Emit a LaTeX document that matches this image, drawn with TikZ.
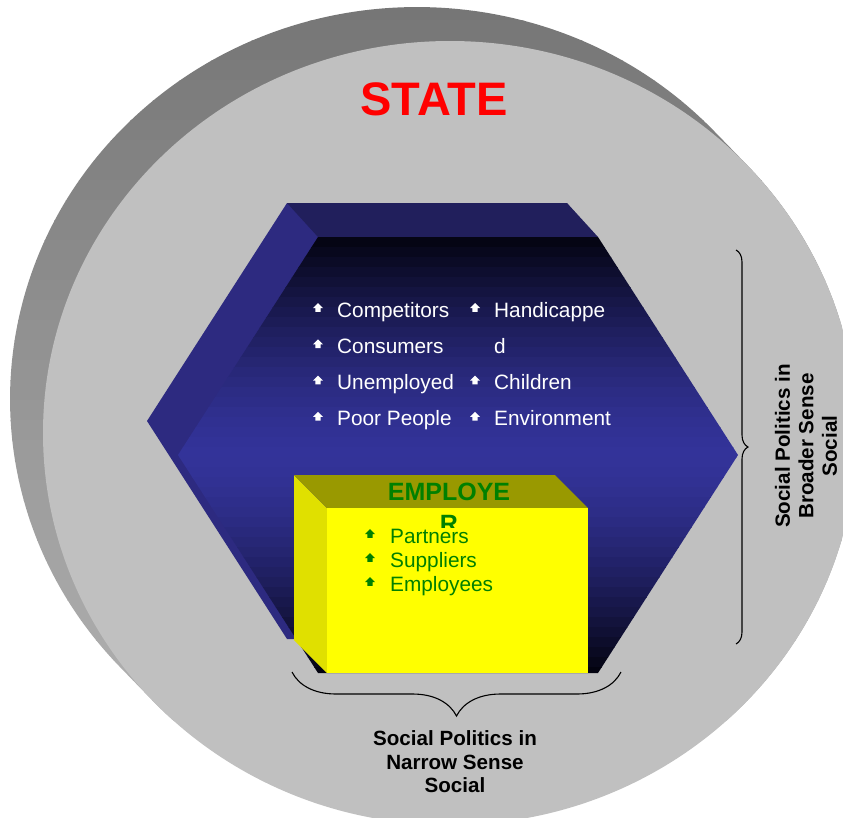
\documentclass[tikz,border=0pt]{standalone}
\usepackage{fontspec}
\setmainfont{Liberation Sans}
\usepackage{tikz}
\usetikzlibrary{positioning,decorations.pathreplacing}
\definecolor{statered}{HTML}{FF0000}
\definecolor{stategray}{HTML}{C0C0C0}
\definecolor{rimtop}{HTML}{767676}
\definecolor{rimbottom}{HTML}{B0B0B0}
\definecolor{hexside}{HTML}{2D2A80}
\definecolor{hextop}{HTML}{211F5C}
\definecolor{hexmid}{HTML}{333399}
\definecolor{hexdark}{HTML}{03030F}
\definecolor{boxfront}{HTML}{FFFF00}
\definecolor{boxtop}{HTML}{999900}
\definecolor{boxside}{HTML}{E0E000}
\definecolor{empgreen}{HTML}{008000}

\begin{document}
\begin{tikzpicture}[x=1pt, y=1pt,
    item/.style={font=\fontsize{20.8}{25}\selectfont, text=white,
                 anchor=base west, inner sep=0pt},
    greenitem/.style={item, text=empgreen},
    sidenote/.style={font=\bfseries\fontsize{20.6}{23.5}\selectfont,
                     align=center, inner sep=0pt},
    bracket/.style={decorate, decoration={brace, amplitude=#1},
                    line width=1.1pt},
    arrowbullet/.pic={\fill[pic actions] (0,5) -- (5,0) -- (2.7,0)
        -- (2.7,-3.8) -- (-2.7,-3.8) -- (-2.7,0) -- (-5,0) -- cycle;},
]
\path[use as bounding box, fill=white] (0,0) rectangle (843,-817);
\clip (0,0) rectangle (843,-817);

% state disc
\begin{scope}
\clip (714.3,-131.3) arc[start angle=43.08, end angle=223.08, x radius=407, y radius=392]
    -- (152.7,-700.7) arc[start angle=223.08, end angle=403.08, x radius=407, y radius=392]
    -- cycle;
\foreach \k in {0,...,35} {
  \pgfmathsetmacro\p{100*\k/35}
  \fill[rimbottom!\p!rimtop] (0,-20*\k) rectangle (843,-20*\k-21);
}
\end{scope}
\fill[stategray] (450,-433) ellipse [x radius=407, y radius=392];
\node[font=\bfseries\fontsize{47}{50}\selectfont, text=statered]
    (state) at (434,-99) {STATE};

% society hexagon
\fill[hexside] (287,-203) -- (567,-203) -- (707,-421) -- (567,-639)
    -- (287,-639) -- (147,-421) -- cycle;
\fill[hextop] (287,-203) -- (567,-203) -- (598,-237) -- (318,-237) -- cycle;
\begin{scope}
\clip (318,-237) -- (598,-237) -- (738,-455) -- (598,-673) -- (318,-673)
    -- (178,-455) -- cycle;
\foreach \k in {0,...,43} {
  \pgfmathsetmacro\p{max(0,100*(1-(abs(242+10*\k-455)/218)^1.5))}
  \fill[hexmid!\p!hexdark] (170,-237-10*\k) rectangle (745,-248-10*\k);
}
\end{scope}

\foreach \txt [count=\i] in {Competitors, Consumers, Unemployed, Poor People} {
  \node[item] (society\i) at (337,-280.7-36.3*\i) {\txt};
  \path (society\i.base west) ++(-19,9) pic[fill=white] {arrowbullet};
}
\foreach \txt [count=\i] in {Handicappe, d, Children, Environment} {
  \node[item] (group\i) at (494,-280.7-36.3*\i) {\txt};
  \ifnum\i=2 \else
    \path (group\i.base west) ++(-19,9) pic[fill=white] {arrowbullet};
  \fi
}

% employer box
\fill[boxside] (294,-475) -- (327,-508) -- (327,-673) -- (294,-640) -- cycle;
\fill[boxtop] (294,-475) -- (555,-475) -- (588,-508) -- (327,-508) -- cycle;
\fill[boxfront] (327,-508) rectangle (588,-673);

\begin{scope}
\clip (294,-470) rectangle (600,-527);
\node[font=\bfseries\fontsize{25}{30}\selectfont, text=empgreen,
      anchor=base, inner sep=0pt] (employ) at (449,-500) {EMPLOYE};
\node[font=\bfseries\fontsize{25}{30}\selectfont, text=empgreen,
      anchor=base, inner sep=0pt] (employr) at (449,-532) {R};
\end{scope}

\foreach \txt [count=\i] in {Partners, Suppliers, Employees} {
  \node[greenitem] (stake\i) at (390,-519-24*\i) {\txt};
  \path (stake\i.base west) ++(-20,9) pic[fill=empgreen] {arrowbullet};
}

% braces
\coordinate (broadtop) at (736,-250);
\coordinate (broadbot) at (736,-644);
\draw[bracket=12] (broadtop) -- (broadbot);
\node[sidenote, rotate=90] (broad) at (806,-446)
    {Social Politics in\\Broader Sense\\Social};

\coordinate (narrowright) at (621,-672);
\coordinate (narrowleft) at (292,-672);
\draw[bracket=44] (narrowright) -- (narrowleft);
\node[sidenote] (narrow) at (455,-762)
    {Social Politics in\\Narrow Sense\\Social};
\end{tikzpicture}
\end{document}
